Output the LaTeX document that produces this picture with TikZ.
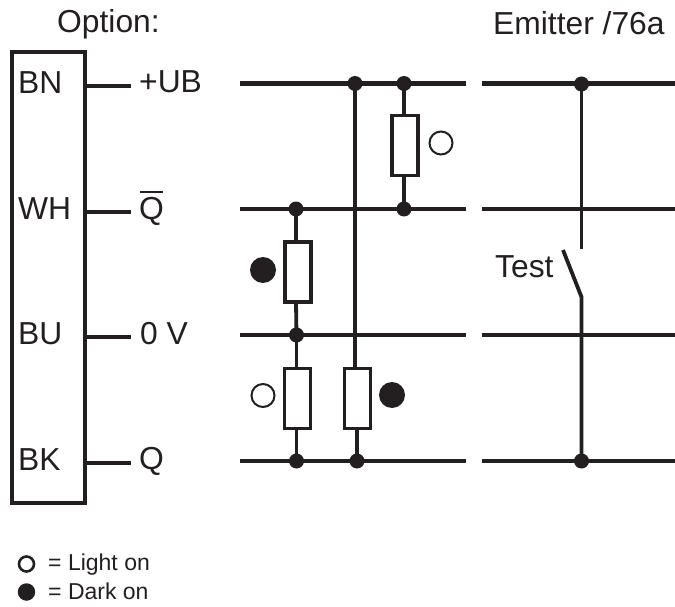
\documentclass[tikz,border=0pt]{standalone}
\usepackage{fontspec}
\setmainfont{Liberation Sans}
\definecolor{ink}{HTML}{231F20}
\begin{document}
\begin{tikzpicture}[x=1pt,y=-1pt,
  wire/.style={draw=ink,line width=4.2pt},
  thin wire/.style={draw=ink,line width=3.8pt},
  res/.style={draw=ink,line width=3.8pt,fill=white,minimum width=26pt,minimum height=60pt,inner sep=0pt,rectangle},
  dot/.style={circle,fill=ink,minimum size=15pt,inner sep=0pt},
  lamp on/.style={circle,draw=ink,line width=2pt,fill=white,minimum size=23pt,inner sep=0pt},
  lamp off/.style={circle,fill=ink,minimum size=26pt,inner sep=0pt},
  lbl/.style={anchor=base west,inner sep=0pt,text=ink,font=\fontsize{31.8}{34}\selectfont},
  small/.style={anchor=base west,inner sep=0pt,text=ink,font=\fontsize{23}{26}\selectfont}]
\useasboundingbox (0,0) rectangle (675,607);
% sensor box
\node (box) [draw=ink,line width=4pt,minimum width=73pt,minimum height=451pt,inner sep=0pt,rectangle,anchor=north west] at (10,50) {};
\node (oph) [lbl] at (57,33) {Option:};
\node (emh) [lbl] at (493,35) {Emitter /76a};
\node (bn) [lbl] at (18,94) {BN};
\node (wh) [lbl] at (18,219) {WH};
\node (bu) [lbl] at (18,344.5) {BU};
\node (bk) [lbl] at (18,470) {BK};
\node (ub) [lbl] at (139,93) {+UB};
\node (qb) [lbl] at (139,219) {Q};
\node (zv) [lbl] at (140,344) {0 V};
\node (q) [lbl] at (139,469) {Q};
\draw[ink,line width=2.4pt] (140,192) -- (163,192);
% stubs
\foreach \n/\y in {a/86,b/212,c/337,d/463}{
  \coordinate (s\n) at (86,\y);
  \coordinate (e\n) at (131,\y);
  \draw[wire] (s\n) -- (e\n);
}
% bus coordinates
\foreach \n/\y in {a/83.5,b/209,c/335,d/461}{
  \coordinate (l\n) at (240,\y);
  \coordinate (m\n) at (465.5,\y);
  \coordinate (n\n) at (482,\y);
  \coordinate (r\n) at (675,\y);
  \draw[wire] (l\n) -- (m\n);
  \draw[wire] (n\n) -- (r\n);
}
% junctions
\node (j1) [dot] at (355,83.5) {};
\node (j2) [dot] at (404,83.5) {};
\node (j3) [dot] at (404,209) {};
\node (j4) [dot] at (296,209) {};
\node (j5) [dot] at (296.5,335) {};
\node (j6) [dot] at (296.5,461) {};
\node (j7) [dot] at (357,461) {};
\node (j8) [dot] at (581.5,84) {};
\node (j9) [dot] at (581.5,461) {};
% resistors
\node (r1) [res] at (405,145.5) {};
\node (r2) [res] at (298,272) {};
\node (r3) [res] at (297.5,398.5) {};
\node (r4) [res] at (357.5,398.5) {};
% branch wires
\draw[thin wire] (j2.center) -- (404,114);
\draw[thin wire] (404,177) -- (j3.center);
\draw[thin wire] (j4.center) -- (296,241);
\draw[thin wire] (296,303) -- (j5.center);
\draw[thin wire] (j5.center) -- (296.5,367);
\draw[thin wire] (296.5,430) -- (j6.center);
\draw[thin wire] (j1.center) -- (355,367);
\draw[thin wire] (357,430) -- (j7.center);
% switch
\coordinate (sw1) at (581.5,249);
\coordinate (sw2) at (563,250);
\coordinate (sw3) at (581.5,297);
\draw[thin wire] (j8.center) -- (sw1);
\draw[thin wire] (sw2) -- (sw3) -- (j9.center);
\node (test) [lbl] at (495,277) {Test};
% lamps
\node (o1) [lamp on] at (441,143) {};
\node (f1) [lamp off] at (263,270) {};
\node (o2) [lamp on] at (263,395.5) {};
\node (f2) [lamp off] at (392,395) {};
% legend
\node (lo) [circle,draw=ink,line width=2.6pt,minimum size=15pt,inner sep=0pt] at (26.5,564) {};
\node (lf) [circle,fill=ink,minimum size=17.5pt,inner sep=0pt] at (26.5,592) {};
\node (lt1) [small] at (48,570) {= Light on};
\node (lt2) [small] at (48,599) {= Dark on};
\end{tikzpicture}
\end{document}
